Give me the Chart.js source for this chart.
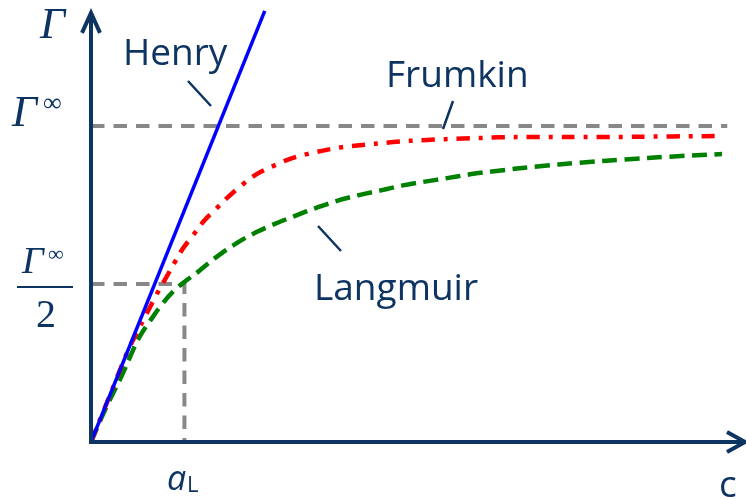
<!DOCTYPE html>
<html>
<head>
<meta charset="utf-8">
<script src="https://cdn.jsdelivr.net/npm/chart.js@4.4.0/dist/chart.umd.min.js"></script>
<style>
  html, body { margin: 0; padding: 0; background: #ffffff; }
  #chart { display: block; }
</style>
</head>
<body>
<canvas id="chart" width="746" height="499"></canvas>
<script>
// concentration in units of a_L, surface excess in units of Γ∞
const henryC = [0, 1.86];
const henryG = [0, 1.364];

const frumkinC = [0, 0.128, 0.257, 0.396, 0.599, 0.717, 0.813, 0.899, 0.974, 1.102, 1.22, 1.349, 1.466, 1.627, 1.787, 1.948, 2.13, 2.312, 2.483, 2.665, 2.847, 3.232, 3.596, 3.982, 4.378, 4.731, 5.48, 6.229, 6.679];
const frumkinG = [0, 0.094, 0.188, 0.289, 0.408, 0.475, 0.525, 0.57, 0.608, 0.658, 0.703, 0.741, 0.775, 0.816, 0.85, 0.873, 0.896, 0.911, 0.922, 0.932, 0.938, 0.949, 0.956, 0.96, 0.964, 0.965, 0.965, 0.967, 0.968];

const langmuirC = [0, 0.15, 0.342, 0.417, 0.524, 0.653, 0.771, 0.878, 1.006, 1.135, 1.327, 1.563, 1.777, 1.991, 2.205, 2.419, 2.665, 2.879, 3.115, 3.339, 3.575, 3.81, 4.056, 4.292, 4.774, 5.234, 5.716, 6.197, 6.754];
const langmuirG = [0, 0.101, 0.218, 0.269, 0.335, 0.392, 0.44, 0.476, 0.508, 0.536, 0.582, 0.63, 0.665, 0.693, 0.718, 0.742, 0.766, 0.782, 0.797, 0.812, 0.824, 0.835, 0.847, 0.856, 0.872, 0.884, 0.894, 0.903, 0.911];

// guide lines: Γ∞ level and the half-coverage point (a_L, Γ∞/2)
const satC = [0, 6.81];
const satG = [1, 1];
const halfC = [0, 1, 1];
const halfG = [0.5, 0.5, 0];

const xMax = 7;
const yMax = 1.367;
const yArrowTip = 1.358;

const navy = '#0e3461';

function pts(xs, ys) {
    return xs.map((x, i) => ({ x: x, y: ys[i] }));
}

// axes with arrowheads, symbols and curve captions
const decorations = {
    id: 'decorations',
    afterDatasetsDraw(chart) {
        const ctx = chart.ctx;
        const xs = chart.scales.x;
        const ys = chart.scales.y;
        const x0 = xs.getPixelForValue(0);
        const y0 = ys.getPixelForValue(0);
        const xTip = xs.getPixelForValue(xMax);
        const yTip = ys.getPixelForValue(yArrowTip);

        ctx.save();
        ctx.strokeStyle = navy;
        ctx.lineWidth = 4;
        ctx.lineCap = 'butt';
        ctx.lineJoin = 'miter';

        ctx.beginPath();
        ctx.moveTo(x0, y0 + 2);
        ctx.lineTo(x0, yTip + 2);
        ctx.moveTo(x0 - 2, y0);
        ctx.lineTo(xTip - 2, y0);
        ctx.stroke();

        ctx.beginPath();
        ctx.moveTo(x0 - 9, yTip + 20);
        ctx.lineTo(x0, yTip);
        ctx.lineTo(x0 + 9, yTip + 20);
        ctx.moveTo(xTip - 18, y0 - 10);
        ctx.lineTo(xTip, y0);
        ctx.lineTo(xTip - 18, y0 + 10);
        ctx.stroke();

        // leader lines from captions to curves
        ctx.lineWidth = 2.5;
        ctx.beginPath();
        ctx.moveTo(188, 81); ctx.lineTo(211, 106);
        ctx.moveTo(453, 101); ctx.lineTo(443, 129);
        ctx.moveTo(318, 226); ctx.lineTo(341, 251);
        ctx.stroke();

        ctx.fillStyle = navy;
        ctx.textBaseline = 'alphabetic';
        ctx.textAlign = 'left';

        // Γ axis symbol
        ctx.font = 'italic 44px "Liberation Serif"';
        ctx.fillText('Γ', 40, 38);

        // Γ∞
        ctx.fillText('Γ', 12, 126);
        ctx.font = '26px "Liberation Serif"';
        ctx.fillText('∞', 43, 111);

        // Γ∞ / 2
        ctx.font = 'italic 38px "Liberation Serif"';
        ctx.fillText('Γ', 22, 273);
        ctx.font = '22px "Liberation Serif"';
        ctx.fillText('∞', 48, 261);
        ctx.fillRect(17, 286, 56, 2);
        ctx.font = '40px "Liberation Serif"';
        ctx.fillText('2', 36, 327);

        // a_L and c
        ctx.font = 'italic 34px "Open Sans"';
        ctx.fillText('a', 167, 490);
        ctx.font = '22px "Open Sans"';
        ctx.fillText('L', 187, 492);
        ctx.font = '37px "Open Sans"';
        ctx.fillText('c', 719, 497);

        // curve captions
        ctx.fillText('Henry', 123, 65);
        ctx.fillText('Frumkin', 386, 87);
        ctx.fillText('Langmuir', 314, 300);
        ctx.restore();
    }
};

function build() {
    const ctx = document.getElementById('chart').getContext('2d');
    new Chart(ctx, {
        type: 'line',
        data: {
            datasets: [
                {
                    label: 'Henry',
                    data: pts(henryC, henryG),
                    borderColor: '#0000ff',
                    borderWidth: 3.5,
                    tension: 0,
                    order: 0
                },
                {
                    label: 'Frumkin',
                    data: pts(frumkinC, frumkinG),
                    borderColor: '#ff0000',
                    borderWidth: 4.5,
                    borderDash: [13, 9, 4, 9],
                    tension: 0.4,
                    order: 1
                },
                {
                    label: 'Langmuir',
                    data: pts(langmuirC, langmuirG),
                    borderColor: '#008000',
                    borderWidth: 4.5,
                    borderDash: [15, 7.5],
                    tension: 0.4,
                    order: 2
                },
                {
                    label: 'Γ∞',
                    data: pts(satC, satG),
                    borderColor: '#888888',
                    borderWidth: 4,
                    borderDash: [13.5, 9],
                    tension: 0,
                    order: 3
                },
                {
                    label: 'a_L',
                    data: pts(halfC, halfG),
                    borderColor: '#888888',
                    borderWidth: 4,
                    borderDash: [13.5, 9],
                    tension: 0,
                    order: 4
                }
            ]
        },
        options: {
            responsive: false,
            animation: false,
            layout: { padding: { left: 91, right: 1, top: 10, bottom: 57 } },
            elements: {
                point: { radius: 0, hoverRadius: 0 },
                line: { fill: false, borderCapStyle: 'butt' }
            },
            scales: {
                x: { type: 'linear', min: 0, max: xMax, display: false },
                y: { type: 'linear', min: 0, max: yMax, display: false }
            },
            plugins: {
                legend: { display: false },
                tooltip: { enabled: false }
            }
        },
        plugins: [decorations]
    });
}

Promise.all([
    document.fonts.load('37px "Open Sans"'),
    document.fonts.load('italic 34px "Open Sans"'),
    document.fonts.load('italic 44px "Liberation Serif"'),
    document.fonts.load('40px "Liberation Serif"')
]).then(build, build);
</script>
</body>
</html>
